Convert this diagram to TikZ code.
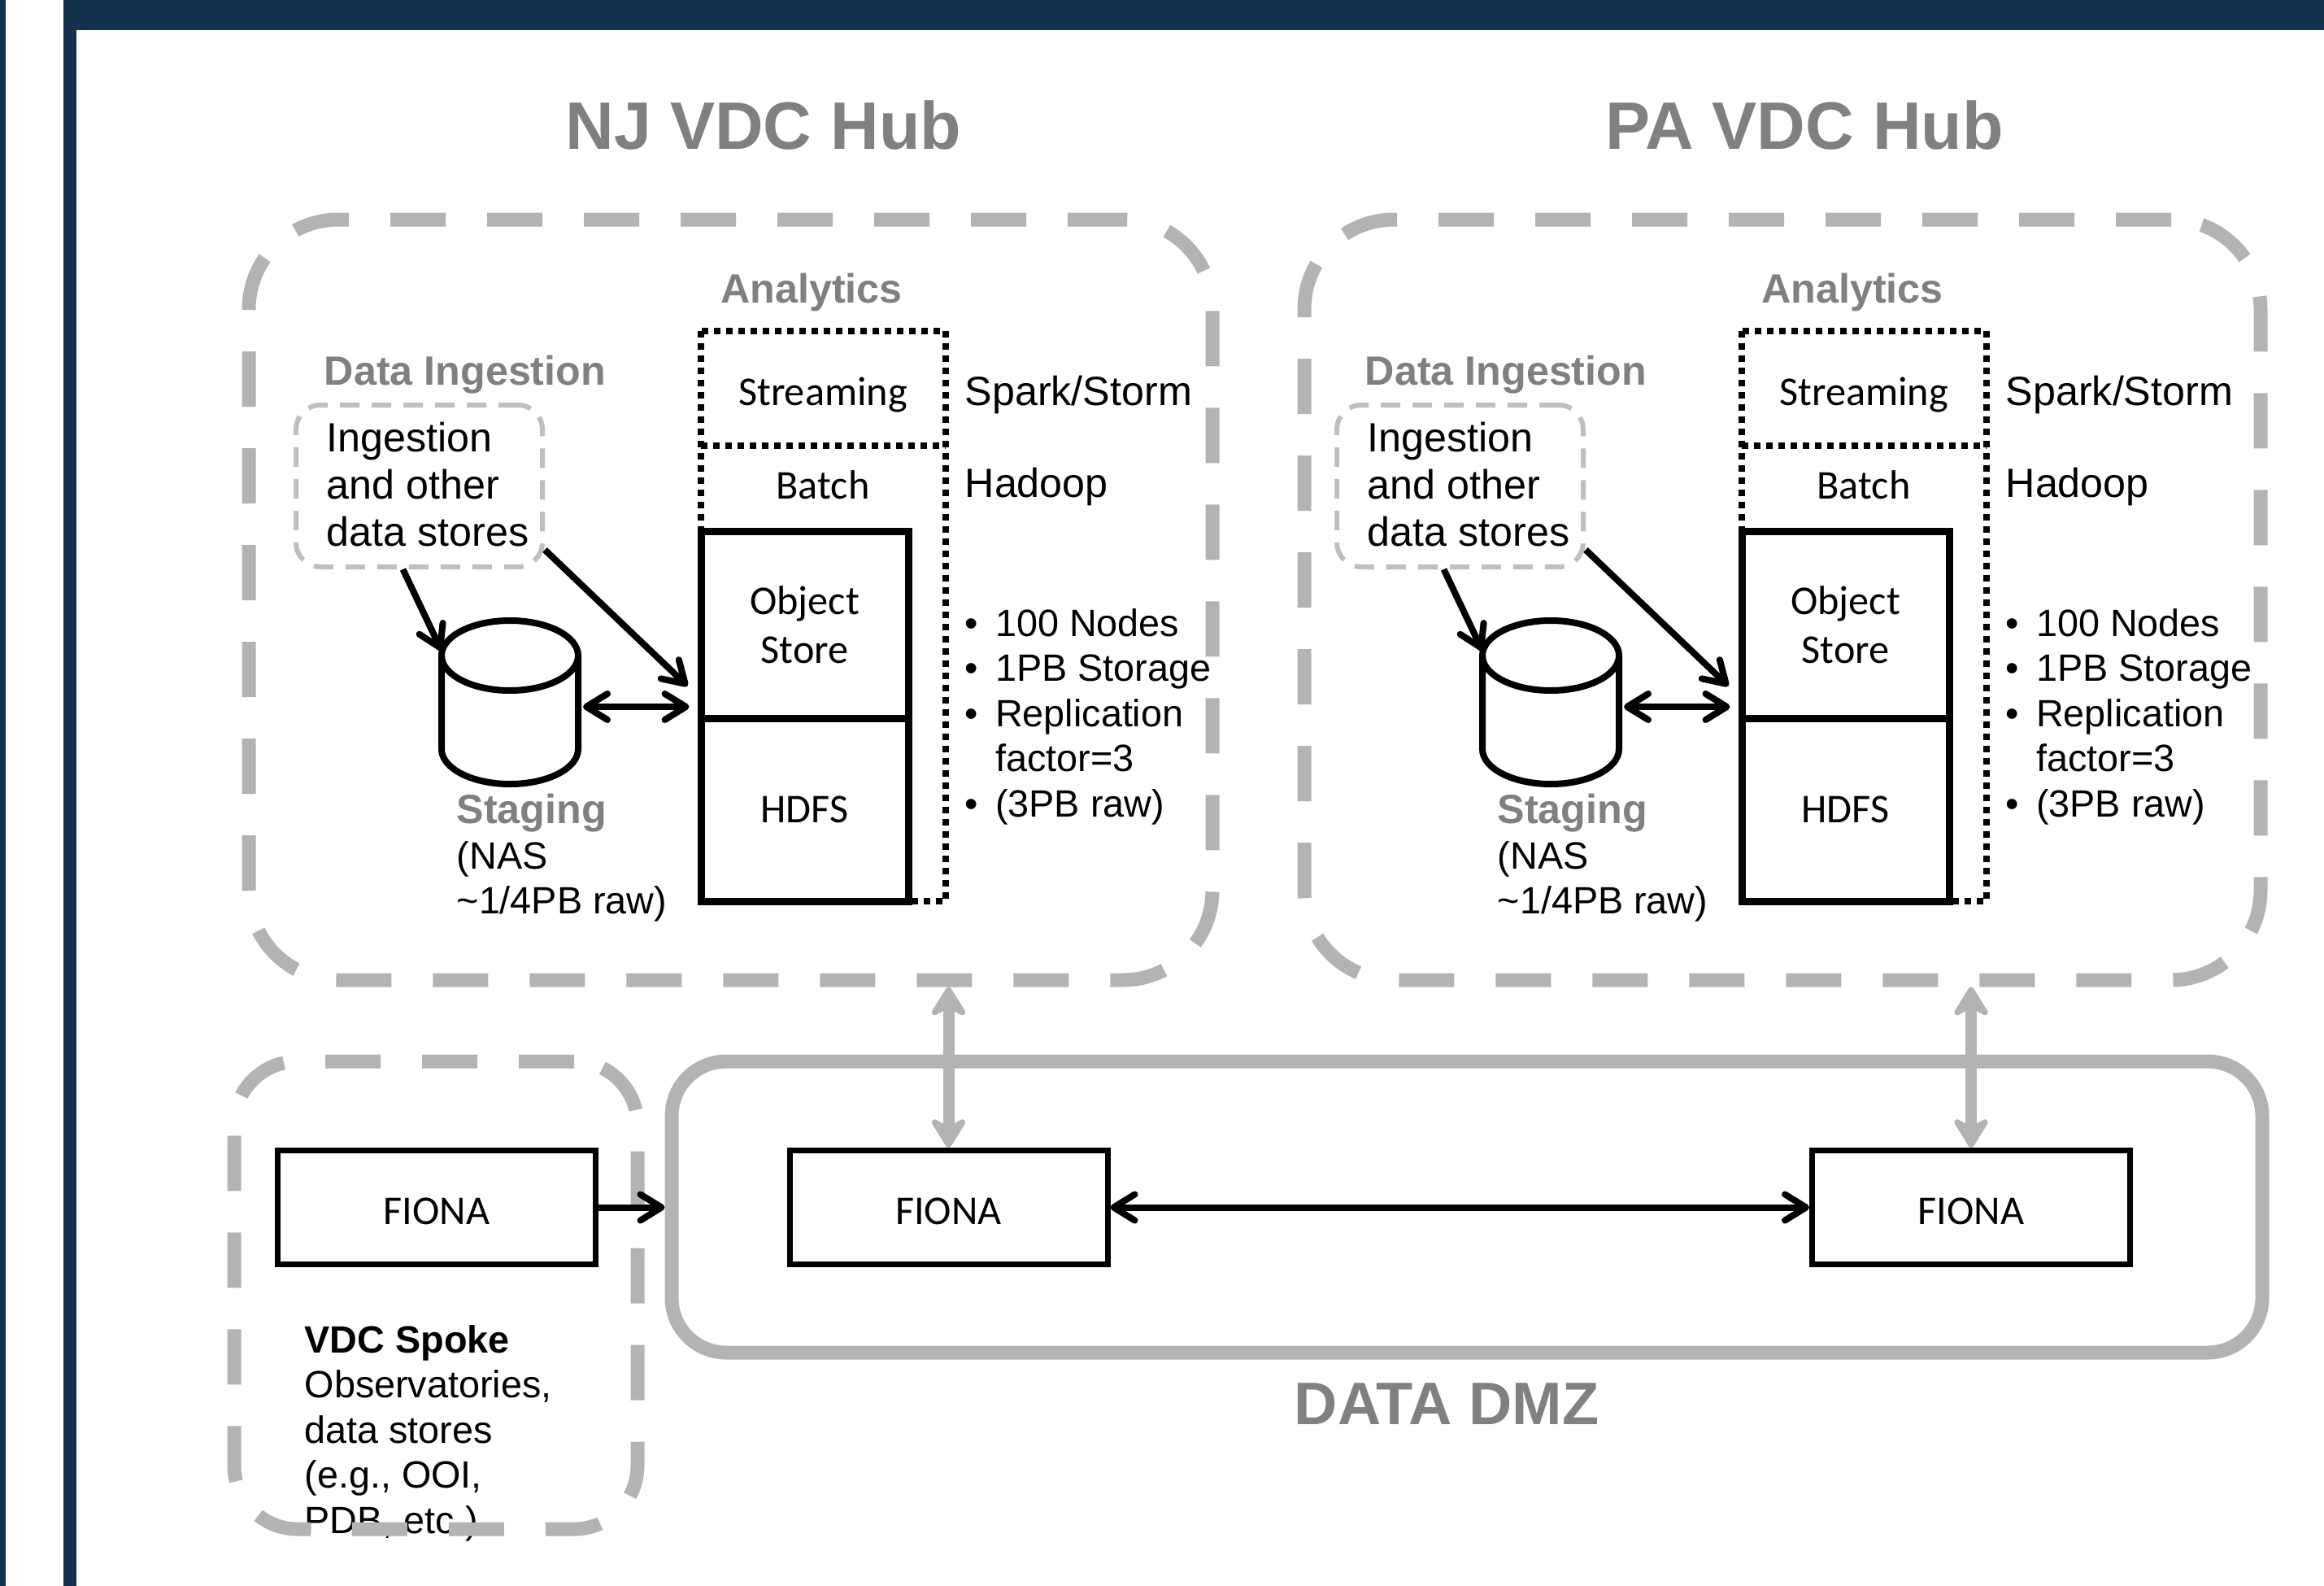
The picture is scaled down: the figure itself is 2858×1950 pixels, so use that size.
\documentclass[tikz,border=0pt]{standalone}
\usepackage{fontspec}
\setmainfont{Liberation Sans}
\newfontfamily\calibrifont{Carlito}
\usetikzlibrary{arrows.meta, positioning, calc}
\definecolor{navyframe}{HTML}{14324D}
\definecolor{hubgray}{HTML}{B3B3B3}
\definecolor{titlegray}{HTML}{808080}
\definecolor{ingestgray}{HTML}{BFBFBF}

\tikzset{
  hubbox/.style={draw=hubgray, line width=1.7mm, rounded corners=11mm, dash pattern=on 6.8mm off 5.1mm},
  spokebox/.style={draw=hubgray, line width=1.7mm, rounded corners=7.8mm, dash pattern=on 6.8mm off 5.1mm},
  dmzbox/.style={draw=hubgray, line width=1.7mm, rounded corners=6.7mm},
  ingbox/.style={draw=ingestgray, line width=0.6mm, rounded corners=3mm, dash pattern=on 2.4mm off 1.5mm},
  analytics/.style={line width=0.85mm, dash pattern=on 0.8mm off 0.7mm},
  storebox/.style={draw, line width=0.9mm, minimum width=25.5mm, inner sep=0, align=center,
    font=\calibrifont\fontsize{14.3}{17}\selectfont},
  fiona/.style={draw, line width=0.7mm, minimum width=39.1mm, minimum height=14mm,
    text height=12pt, text depth=0pt, font=\calibrifont\fontsize{14.3}{17}\selectfont},
  boxlabel/.style={inner sep=0, font=\calibrifont\fontsize{14.3}{17}\selectfont},
  hubtitle/.style={inner sep=0, text=titlegray, font=\fontsize{23.5}{28}\selectfont\bfseries},
  sublabel/.style={inner sep=0, text=titlegray, font=\fontsize{14.3}{16}\selectfont\bfseries},
  plain/.style={inner sep=0, align=left, font=\fontsize{14.3}{16.5}\selectfont},
  smalltext/.style={inner sep=0, align=left, font=\fontsize{13.3}{15.8}\selectfont},
  flow/.style={line width=0.8mm, -{Straight Barb[length=2.6mm, width=3.2mm, round]}},
  dflow/.style={line width=0.8mm, {Straight Barb[length=2.6mm, width=3.2mm, round]}-{Straight Barb[length=2.6mm, width=3.2mm, round]}},
  link/.style={hubgray, line width=1.4mm, {Stealth[length=4.4mm, width=5.4mm, inset=1.5mm, round]}-{Stealth[length=4.4mm, width=5.4mm, inset=1.5mm, round]}}
}

\begin{document}
\begin{tikzpicture}[x=0.1mm, y=0.1mm]
  \useasboundingbox (0,0) rectangle (2858,-1950);

  % Frame
  \fill[navyframe] (0,0) rectangle (7,-1950);
  \fill[navyframe] (78,0) rectangle (94,-1950);
  \fill[navyframe] (78,0) rectangle (2858,-37);

  % Hub titles and boxes
  \node[hubtitle] (nj-title) at (939,-154) {NJ VDC Hub};
  \node[hubtitle] (pa-title) at (2219,-154) {PA VDC Hub};
  \node[hubbox, minimum width=118.5mm, minimum height=93.5mm] (njhub) at (898.5,-737.5) {};
  \node[hubbox, minimum width=117.6mm, minimum height=93.5mm] (pahub) at (2192,-737.5) {};

  % Hub internals (same layout in both hubs)
  \foreach \hub/\dx in {nj/0, pa/1280} {
    \begin{scope}[shift={(\dx,0)}]
      \node[sublabel] (\hub-analytics) at (998,-360) {Analytics};
      \node[sublabel] (\hub-inglabel) at (572,-461) {Data Ingestion};

      % analytics stack
      \draw[analytics] (862,-407) rectangle (1163,-1108);
      \draw[analytics] (862,-548) -- (1163,-548);
      \node[boxlabel] (\hub-stream) at (1012,-486) {Streaming};
      \node[boxlabel] (\hub-batch) at (1012,-596) {Batch};
      \node[storebox, minimum height=23mm] (\hub-obj) at (989.5,-768) {Object\\Store};
      \node[storebox, minimum height=22.5mm] (\hub-hdfs) at (989.5,-995.5) {HDFS};

      \node[plain, anchor=west] (\hub-spark) at (1186,-486) {Spark/Storm};
      \node[plain, anchor=west] (\hub-hadoop) at (1186,-599) {Hadoop};
      \node[smalltext, anchor=west] (\hub-specs) at (1186,-882) {%
        \begin{tabular}{@{}l@{\hspace{6pt}}l@{}}
          • & 100 Nodes\\
          • & 1PB Storage\\
          • & Replication\\
            & factor=3\\
          • & (3PB raw)
        \end{tabular}};

      % ingestion and staging
      \node[ingbox, minimum width=30.3mm, minimum height=19.9mm] (\hub-ing) at (515.5,-597.5) {};
      \node[plain, anchor=west] (\hub-ingtext) at (401,-596) {Ingestion\\and other\\data stores};
      \draw[line width=0.8mm] (627,-806) ellipse [x radius=8.4mm, y radius=4.3mm];
      \draw[line width=0.8mm] (543,-806) -- (543,-921)
        arc[start angle=180, end angle=360, x radius=8.4mm, y radius=4.3mm] -- (711,-806);
      \coordinate (\hub-cyltop) at (543,-800);
      \coordinate (\hub-cylside) at (717,-869);
      \node[smalltext, anchor=west] (\hub-staging) at (561,-1055)
        {{\color{titlegray}\fontsize{14.3}{15.8}\selectfont\bfseries Staging}\\(NAS\\\textasciitilde1/4PB raw)};

      \draw[flow] ([xshift=-2mm]\hub-ing.south) -- (\hub-cyltop);
      \draw[flow] ([yshift=2.4mm]\hub-ing.south east) -- ([shift={(-1.2mm,4.4mm)}]\hub-obj.south west);
      \draw[dflow, shorten >=1mm] (\hub-cylside) -- (\hub-cylside -| \hub-obj.west);
    \end{scope}
  }

  % Spoke
  \node[smalltext, anchor=west] (spoke-text) at (374,-1762)
    {\textbf{VDC Spoke}\\Observatories,\\data stores\\(e.g., OOI,\\PDB, etc.)};
  \node[spokebox, minimum width=49.6mm, minimum height=57.5mm] (spoke) at (536,-1592.5) {};
  \node[fiona] (fiona-spoke) at (537,-1484.5) {FIONA};

  % Data DMZ
  \node[dmzbox, minimum width=195.6mm, minimum height=35.8mm] (dmz) at (1804,-1484) {};
  \node[hubtitle, font=\fontsize{21}{25}\selectfont\bfseries] (dmz-label) at (1779,-1726) {DATA DMZ};
  \node[fiona] (fiona-nj) at (1166.5,-1484.5) {FIONA};
  \node[fiona] (fiona-pa) at (2424,-1484.5) {FIONA};

  % Connectors
  \draw[flow] (fiona-spoke.east) -- (fiona-spoke.east -| dmz.west);
  \draw[dflow] (fiona-nj.east) -- (fiona-pa.west);
  \draw[link] (fiona-nj.north) -- (fiona-nj.north |- njhub.south);
  \draw[link] (fiona-pa.north) -- (fiona-pa.north |- pahub.south);
\end{tikzpicture}
\end{document}
